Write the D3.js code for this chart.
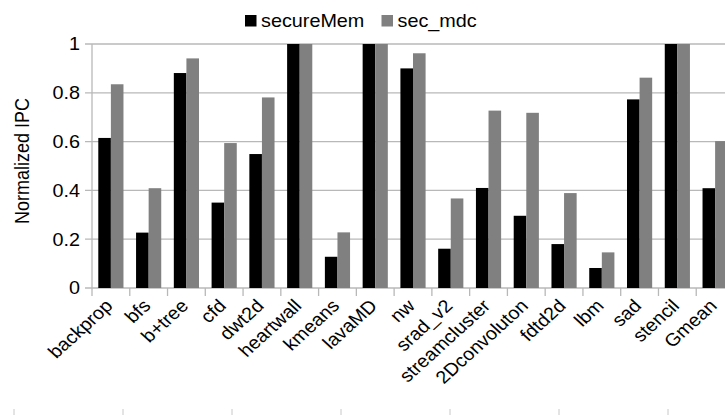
<!DOCTYPE html>
<html>
<head>
<meta charset="utf-8">
<script src="https://cdn.jsdelivr.net/npm/d3@7"></script>
<style>
  html, body { margin: 0; padding: 0; background: #fff; }
  svg { display: block; }
  text { font-family: "Liberation Sans", Arial, sans-serif; fill: #000; }
</style>
</head>
<body>
<svg id="chart" width="725" height="415"></svg>
<script>
// Benchmarks along the x axis
const categories = ["backprop", "bfs", "b+tree", "cfd", "dwt2d", "heartwall", "kmeans", "lavaMD",
  "nw", "srad_v2", "streamcluster", "2Dconvoluton", "fdtd2d", "lbm", "sad", "stencil", "Gmean"];

// Normalized IPC per configuration
const secureMem = [0.615, 0.227, 0.881, 0.350, 0.549, 1.0, 0.128, 1.0,
  0.900, 0.161, 0.410, 0.296, 0.180, 0.082, 0.773, 1.0, 0.409];
const secMdc = [0.835, 0.409, 0.941, 0.594, 0.781, 1.0, 0.228, 1.0,
  0.962, 0.367, 0.727, 0.718, 0.389, 0.146, 0.862, 1.0, 0.602];

const seriesNames = ["secureMem", "sec_mdc"];
const seriesColors = ["#000000", "#808080"];
const yTicks = [0, 0.2, 0.4, 0.6, 0.8, 1];
const yTickLabels = ["0", "0.2", "0.4", "0.6", "0.8", "1"];
const yTitle = "Normalized IPC";

const svg = d3.select("#chart");
const W = 725, H = 415;
const sx = 1.1;          // glyphs are set slightly wide
const fs = 18;
const gridColor = "#b8b8b8";

const x = d3.scaleBand().domain(categories).range([92, 734]).paddingInner(0).paddingOuter(0);
const xs = d3.scaleBand().domain(seriesNames).range([0, x.bandwidth()]).paddingInner(0).paddingOuter(0.5);
const y = d3.scaleLinear().domain([0, 1]).range([288, 44]);

// gridlines + y ticks
svg.append("g").selectAll("line").data(yTicks).join("line")
  .attr("x1", 85).attr("x2", W)
  .attr("y1", d => y(d)).attr("y2", d => y(d))
  .attr("stroke", gridColor).attr("stroke-width", 1.3);

// y tick labels
svg.append("g").selectAll("text").data(yTicks).join("text")
  .attr("transform", d => `translate(80,${y(d)}) scale(${sx},1)`)
  .attr("dy", "0.36em")
  .attr("text-anchor", "end")
  .attr("font-size", fs)
  .text((d, i) => yTickLabels[i]);

// y axis line
svg.append("line")
  .attr("x1", 92).attr("x2", 92).attr("y1", y(1)).attr("y2", y(0) + 8)
  .attr("stroke", gridColor).attr("stroke-width", 1.3);

// category boundary ticks
svg.append("g").selectAll("line").data(categories.slice(1)).join("line")
  .attr("x1", d => x(d)).attr("x2", d => x(d))
  .attr("y1", y(0)).attr("y2", y(0) + 8)
  .attr("stroke", gridColor).attr("stroke-width", 1.3);

// bars
const series = [secureMem, secMdc];
series.forEach((vals, si) => {
  svg.append("g").selectAll("rect").data(categories).join("rect")
    .attr("x", d => x(d) + xs(seriesNames[si]))
    .attr("width", xs.bandwidth())
    .attr("y", (d, i) => y(vals[i]))
    .attr("height", (d, i) => y(0) - y(vals[i]))
    .attr("fill", seriesColors[si]);
});

// x labels, rotated
svg.append("g").selectAll("text").data(categories).join("text")
  .attr("transform", d => `translate(${x(d) + x.bandwidth() / 2 + 3},307) scale(${sx},1) rotate(-45)`)
  .attr("text-anchor", "end")
  .attr("font-size", fs)
  .text(d => d);

// y axis title
svg.append("text")
  .attr("transform", `translate(29,161) rotate(-90) scale(1,${sx})`)
  .attr("text-anchor", "middle")
  .attr("font-size", fs)
  .text(yTitle);

// legend
const legendX = [245, 381.5];
seriesNames.forEach((name, i) => {
  svg.append("rect")
    .attr("x", legendX[i]).attr("y", 15)
    .attr("width", 11.5).attr("height", 11.5)
    .attr("fill", seriesColors[i]);
  svg.append("text")
    .attr("transform", `translate(${legendX[i] + 16},27) scale(${sx},1)`)
    .attr("font-size", fs)
    .text(name);
});

// faint ruler marks along the bottom edge
const rulerMarks = d3.range(7);
const ruler = d3.scaleLinear().domain([0, 6]).range([14, 668]);
svg.append("g").selectAll("line").data(rulerMarks).join("line")
  .attr("x1", d => ruler(d)).attr("x2", d => ruler(d))
  .attr("y1", 409).attr("y2", 415)
  .attr("stroke", "#c8c8c8").attr("stroke-width", 1);
</script>
</body>
</html>
